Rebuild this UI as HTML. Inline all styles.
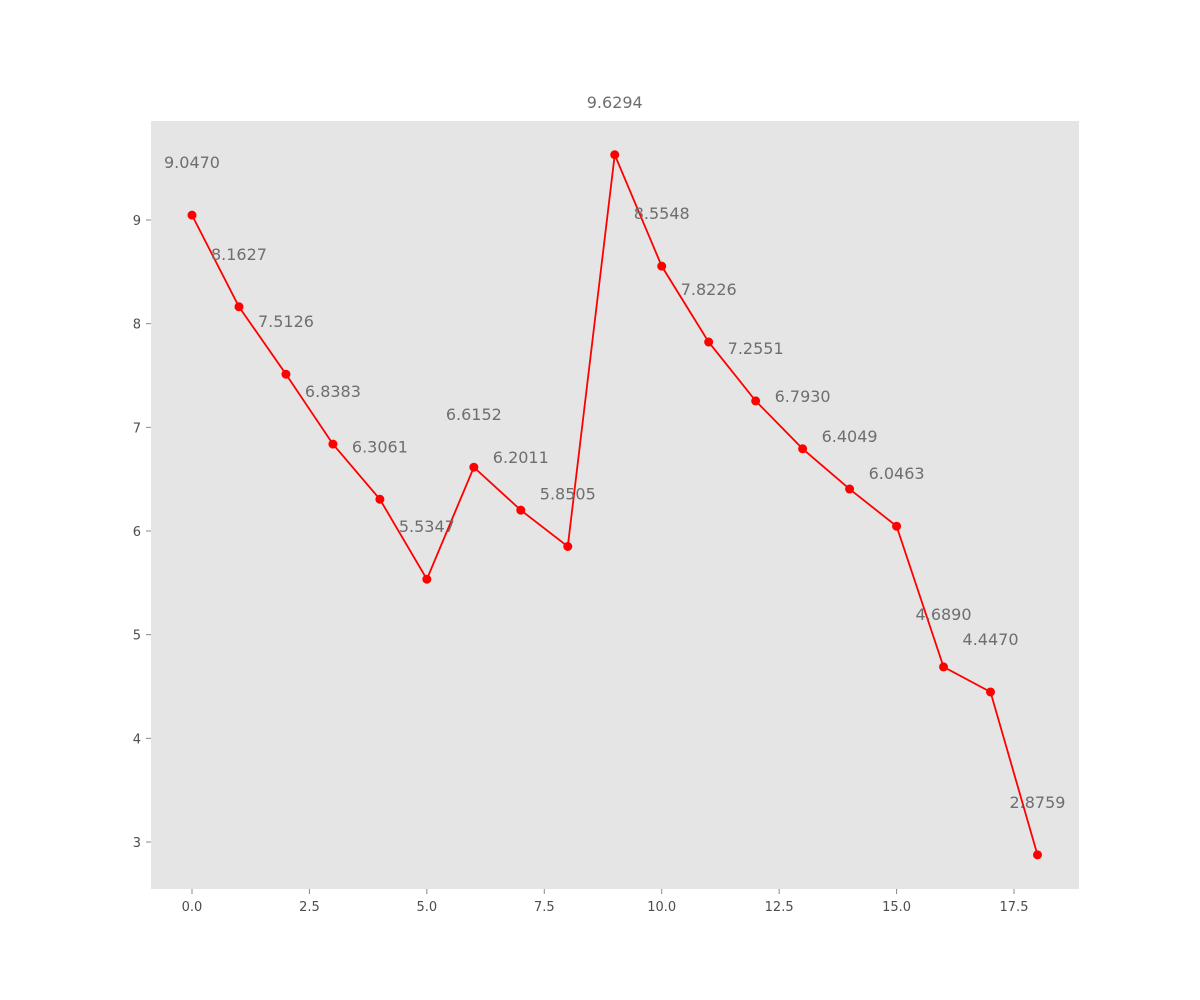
<!DOCTYPE html>
<html><head><meta charset="utf-8"><style>
body{margin:0;background:#fff;}
svg{display:block;font-family:"DejaVu Sans","Liberation Sans",sans-serif;}
</style></head><body>
<svg id="chart" width="1200" height="1000">
<rect x="151" y="121" width="928" height="768" fill="#e5e5e5"/>
<g id="axes"></g><g id="series"></g><g id="labels"></g>
</svg>
<script>
const xValues=[0,1,2,3,4,5,6,7,8,9,10,11,12,13,14,15,16,17,18];
const yValues=[9.0470,8.1627,7.5126,6.8383,6.3061,5.5347,6.6152,6.2011,5.8505,9.6294,8.5548,7.8226,7.2551,6.7930,6.4049,6.0463,4.6890,4.4470,2.8759];
const xTicks=[0,2.5,5,7.5,10,12.5,15,17.5];
const yTicks=[3,4,5,6,7,8,9];
const NS="http://www.w3.org/2000/svg";
function xs(v){return 192+(v-0)*(1014-192)/17.5;}
function ys(v){return 842-(v-3)*(842-220)/6;}
function mk(tag,attrs,parent){const e=document.createElementNS(NS,tag);for(const k in attrs)e.setAttribute(k,attrs[k]);parent.appendChild(e);return e;}
const axes=document.getElementById('axes'),series=document.getElementById('series'),labels=document.getElementById('labels');
xTicks.forEach(t=>{
  const l=mk('line',{x1:xs(t),x2:xs(t),y1:889,y2:894,stroke:'#888'},axes);
  
  
  const tx=mk('text',{x:xs(t),y:911,'text-anchor':'middle','font-size':13,fill:'#4d4d4d'},axes);
  tx.textContent=t.toFixed(1);
  
  
});
yTicks.forEach(t=>{
  const l=mk('line',{x1:146,x2:151,y1:ys(t),y2:ys(t),stroke:'#888'},axes);
  
  
  const tx=mk('text',{x:141,y:ys(t)+5,'text-anchor':'end','font-size':13,fill:'#4d4d4d'},axes);
  tx.textContent=t;
  
  
});
const pts=xValues.map((x,i)=>xs(x)+','+ys(yValues[i])).join(' ');
const pl=mk('polyline',{points:pts,fill:'none',stroke:'#ff0000','stroke-width':1.8},series);


xValues.forEach((x,i)=>{
  const c=mk('circle',{cx:xs(x),cy:ys(yValues[i]),r:4.5,fill:'#ff0000'},series);
  
  
  const t=mk('text',{x:xs(x),y:ys(yValues[i])-47,'text-anchor':'middle','font-size':16,fill:'#6e6e6e'},labels);
  t.textContent=yValues[i].toFixed(4);
  
  
});
</script>
</body></html>
